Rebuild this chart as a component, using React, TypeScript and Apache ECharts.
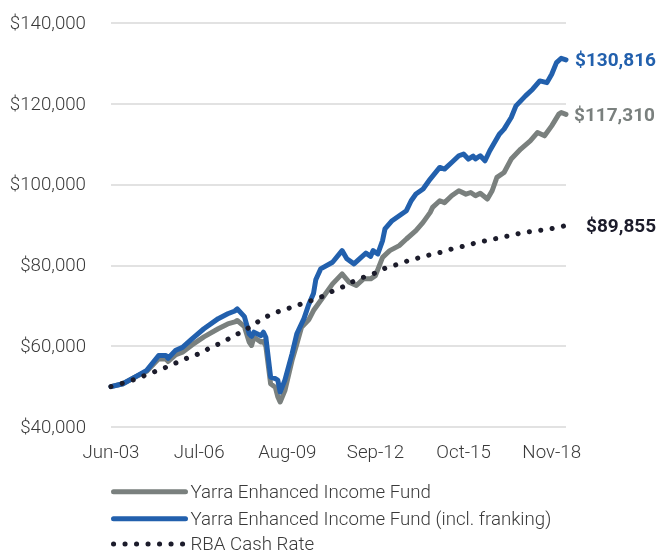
import React, { useEffect, useRef } from "react";
import * as echarts from "echarts";

// x positions are month indexes counted from Jun-03 (0) to May-19 (191)
const xTickMonths = [0, 37, 74, 111, 148, 185];
const xTickLabels = ["Jun-03", "Jul-06", "Aug-09", "Sep-12", "Oct-15", "Nov-18"];

const seriesNames = [
  "Yarra Enhanced Income Fund",
  "Yarra Enhanced Income Fund (incl. franking)",
  "RBA Cash Rate",
];

const fundMonths = [0, 5, 10, 15, 20, 23, 24, 27, 30, 34, 39, 45, 49, 52, 53, 56, 58, 59, 60, 63, 64, 65, 67, 69, 70, 71, 73, 76, 78, 80, 83, 85, 89, 93, 97, 100, 103, 106, 109, 111, 114, 117, 121, 124, 128, 131, 134, 135, 138, 140, 143, 146, 149, 151, 153, 155, 158, 160, 162, 165, 168, 172, 176, 179, 182, 185, 188, 189, 191];
const fundValues = [50000, 50700, 52300, 53800, 56900, 56800, 56200, 57800, 58500, 60300, 62300, 64300, 65500, 66000, 66340, 64800, 61000, 60170, 62200, 61000, 61200, 60000, 50700, 49800, 47500, 46200, 49000, 56470, 60500, 64700, 66500, 68800, 72100, 75400, 77870, 75800, 74990, 76640, 76640, 77450, 81970, 83630, 84860, 86500, 88560, 90620, 93090, 94320, 95970, 95500, 97200, 98440, 97600, 98000, 97200, 97800, 96380, 98440, 101730, 102960, 106270, 108740, 110790, 112840, 112020, 114490, 117380, 117780, 117310];

const frankMonths = [0, 5, 10, 15, 20, 23, 24, 27, 30, 34, 39, 45, 49, 52, 53, 56, 58, 59, 60, 63, 64, 65, 67, 69, 70, 71, 73, 76, 78, 81, 83, 85, 86, 88, 93, 97, 99, 102, 105, 107, 109, 110, 112, 114, 115, 118, 121, 124, 126, 128, 131, 134, 138, 140, 143, 146, 148, 150, 152, 153, 155, 157, 159, 161, 163, 165, 168, 170, 174, 177, 180, 183, 185, 187, 189, 191];
const frankValues = [50000, 50700, 52350, 54000, 57700, 57700, 57000, 58900, 59700, 61800, 64300, 66800, 68000, 68700, 69230, 67300, 63060, 62400, 63450, 62600, 63450, 62200, 52350, 51950, 51600, 48640, 51600, 58100, 63060, 66800, 70300, 73000, 76500, 79100, 80740, 83630, 81600, 80340, 81970, 83000, 82200, 83630, 82800, 86100, 89000, 91030, 92270, 93500, 95970, 97620, 98850, 101330, 104200, 103800, 105430, 107090, 107500, 106270, 107000, 106300, 107090, 105850, 108320, 110370, 112430, 113670, 116540, 119430, 121900, 123550, 125600, 125180, 127250, 130120, 131200, 130816];

const rbaMonths = [0, 5, 10, 15, 19, 24, 28, 33, 38, 42, 47, 51, 56, 60, 64, 69, 73, 78, 83, 88, 92, 97, 101, 106, 111, 115, 120, 125, 130, 135, 140, 144, 149, 154, 159, 164, 169, 174, 179, 184, 189, 191];
const rbaValues = [50000, 50860, 51780, 52940, 53830, 54990, 56050, 57280, 58370, 59750, 60990, 62390, 63880, 65360, 66910, 68250, 69060, 70050, 71040, 72100, 73330, 74570, 75800, 77040, 78120, 79260, 80170, 81160, 81970, 82750, 83450, 84200, 84860, 85680, 86270, 86910, 87550, 88150, 88560, 88980, 89550, 89855];

const GRAY = "#7a807e";
const BLUE = "#2260ad";
const DARK = "#1c1c2b";
const TEXT = "#3a3a3a";
const FONT = "Roboto, 'Noto Sans', sans-serif";
const FS = 18.7;

const pairs = (xs: number[], ys: number[]) => xs.map((x, i) => [x, ys[i]]);
const money = (v: number) => "$" + Math.round(v).toLocaleString("en-US");

export default function App() {
  const ref = useRef<HTMLDivElement>(null);
  useEffect(() => {
    if (!ref.current) return;
    const chart = echarts.init(ref.current, null, { renderer: "svg" });
    const endLabel = (color: string, distance: number) => ({
      show: true,
      distance,
      formatter: (p: any) => money(p.value[1]),
      color,
      fontFamily: FONT,
      fontWeight: "bold",
      fontSize: 19,
    });
    const legendRowTops = [482.2, 509.3, 534.5];
    const legends = seriesNames.map((name, i) => ({
      orient: "vertical",
      left: 111,
      top: legendRowTops[i],
      padding: 0,
      itemWidth: 72,
      itemHeight: 14,
      itemGap: 0,
      itemStyle: { opacity: 0 },
      lineStyle: { width: "inherit" },
      textStyle: { fontSize: FS, lineHeight: 16, fontWeight: 300, color: TEXT, fontFamily: FONT },
      data: [name],
    }));
    chart.setOption({
      animation: false,
      textStyle: { fontFamily: FONT },
      grid: { left: 111, right: 91, top: 22.7, bottom: 126 },
      xAxis: {
        type: "value",
        min: 0,
        max: 191,
        interval: 37,
        axisLine: { show: false },
        axisTick: { show: false },
        splitLine: { show: false },
        axisLabel: {
          showMaxLabel: false,
          margin: 15,
          fontSize: FS,
          fontWeight: 300,
          color: TEXT,
          fontFamily: FONT,
          formatter: (v: number) => {
            const i = xTickMonths.indexOf(Math.round(v));
            return i >= 0 ? xTickLabels[i] : "";
          },
        },
      },
      yAxis: {
        type: "value",
        min: 40000,
        max: 140000,
        interval: 20000,
        axisLine: { show: false },
        axisTick: { show: false },
        splitLine: { show: true, lineStyle: { color: "#d9d9d9", width: 1.5 } },
        axisLabel: {
          margin: 25,
          fontSize: FS,
          fontWeight: 300,
          color: TEXT,
          fontFamily: FONT,
          formatter: (v: number) => money(v),
        },
      },
      legend: legends,
      series: [
        {
          name: seriesNames[0],
          type: "line",
          symbol: "none",
          data: pairs(fundMonths, fundValues),
          lineStyle: { color: GRAY, width: 5, cap: "round", join: "round" },
          itemStyle: { color: GRAY },
          endLabel: endLabel(GRAY, 8),
          z: 2,
        },
        {
          name: seriesNames[1],
          type: "line",
          symbol: "none",
          data: pairs(frankMonths, frankValues),
          lineStyle: { color: BLUE, width: 5, cap: "round", join: "round" },
          itemStyle: { color: BLUE },
          endLabel: endLabel(BLUE, 9),
          z: 3,
        },
        {
          name: seriesNames[2],
          type: "line",
          symbol: "none",
          smooth: 0.3,
          data: pairs(rbaMonths, rbaValues),
          lineStyle: { color: DARK, width: 5, type: [0.1, 11.4], cap: "round", join: "round" },
          itemStyle: { color: DARK },
          endLabel: endLabel(DARK, 20),
          z: 4,
        },
      ],
    });
    return () => chart.dispose();
  }, []);
  return (
    <div
      ref={ref}
      style={{ position: "fixed", left: 0, top: 0, width: 657, height: 553 }}
    />
  );
}
